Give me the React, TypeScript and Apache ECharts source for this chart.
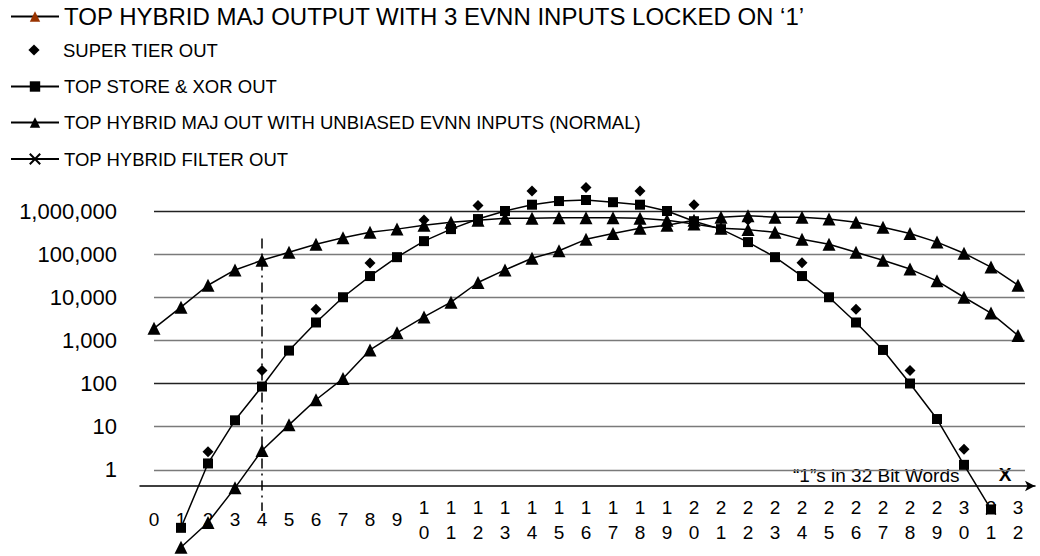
import React, { useEffect, useRef } from "react";
import * as echarts from "echarts";

const FONT = '"Liberation Sans", Arial, Helvetica, sans-serif';

// categories: number of "1"s in 32 bit words
const BIT_COUNTS = [0, 1, 2, 3, 4, 5, 6, 7, 8, 9, 10, 11, 12, 13, 14, 15, 16, 17, 18, 19, 20, 21, 22, 23, 24, 25, 26, 27, 28, 29, 30, 31, 32];

const NAME_LOCKED = "TOP HYBRID MAJ OUTPUT WITH 3 EVNN INPUTS LOCKED ON \u20181\u2019";
const NAME_SUPER = "SUPER TIER OUT";
const NAME_STORE = "TOP STORE & XOR OUT";
const NAME_NORMAL = "TOP HYBRID MAJ OUT WITH UNBIASED EVNN INPUTS (NORMAL)";
const NAME_FILTER = "TOP HYBRID FILTER OUT";

// values per bit count (null = no point)
const LOCKED_VALUES = [null, 0.016, 0.06, 0.38, 2.8, 11, 42, 130, 600, 1500, 3500, 7700, 22000, 43000, 80000, 120000, 220000, 300000, 400000, 470000, 610000, 720000, 780000, 720000, 720000, 650000, 550000, 420000, 300000, 190000, 105000, 50000, 19000];
const NORMAL_VALUES = [1900, 5900, 19000, 43000, 72000, 110000, 170000, 240000, 320000, 380000, 470000, 550000, 610000, 680000, 680000, 700000, 700000, 700000, 680000, 610000, 500000, 400000, 370000, 320000, 220000, 170000, 110000, 72000, 45000, 24000, 10000, 4300, 1300];
const STORE_VALUES = [null, 0.045, 1.4, 14, 85, 580, 2600, 10000, 31000, 85000, 200000, 380000, 650000, 1000000, 1400000, 1700000, 1800000, 1600000, 1400000, 1000000, 580000, 380000, 190000, 85000, 31000, 10000, 2600, 600, 100, 15, 1.3, 0.12, null];

const SUPER_X = [2, 4, 6, 8, 10, 12, 14, 16, 18, 20, 22, 24, 26, 28, 30];
const SUPER_VALUES = [2.6, 200, 5300, 62000, 620000, 1350000, 2900000, 3500000, 2900000, 1400000, 620000, 63000, 5300, 200, 3];

const FILTER_X = [31];
const FILTER_VALUES = [0.12];

// y tick values shown with labels
const Y_LABELED_MIN = 1;
// dash-dot marker line at 4 "1"s
const DASH_X = 4;
const DASH_TOP = 230000;
const DASH_BOTTOM = 0.11;

const AXIS_TITLE = "\u201C1\u201Ds in 32 Bit Words";
const AXIS_X_MARK = "X";

function pairs(xs: number[], vs: (number | null)[]) {
  const out: number[][] = [];
  xs.forEach((x, i) => {
    const v = vs[i];
    if (v !== null && v !== undefined) out.push([x, v]);
  });
  return out;
}

const BLACK_LINE = { color: "#000", width: 1.5 };

function legendFor(name: string, centerY: number, fontSize: number, extra: any, itemHeight = 13) {
  const lh = Math.round(fontSize * 1.15);
  return {
    show: true,
    selectedMode: false,
    orient: "horizontal",
    left: 10,
    top: centerY - lh / 2,
    padding: 0,
    itemWidth: 48,
    itemHeight,
    itemGap: 0,
    data: [{ name, ...extra }],
    textStyle: { fontFamily: FONT, fontSize, color: "#000", lineHeight: lh },
  };
}

export default function App() {
  const ref = useRef<HTMLDivElement>(null);
  useEffect(() => {
    if (!ref.current) return;
    const chart = echarts.init(ref.current, null, { renderer: "svg" });
    const option: any = {
      animation: false,
      backgroundColor: "#fff",
      textStyle: { fontFamily: FONT },
      legend: [
        legendFor(NAME_LOCKED, 16.5, 24, { itemStyle: { color: "#993300" } }),
        legendFor(NAME_SUPER, 50, 18.5, {}, 14),
        legendFor(NAME_STORE, 86.5, 18.5, {}),
        legendFor(NAME_NORMAL, 122.5, 18.5, {}),
        legendFor(NAME_FILTER, 159, 18.5, {}),
      ],
      grid: [
        { left: 154, right: 15, top: 211, height: 345.6 },
        { left: 140, right: 5, top: 211, height: 275 },
      ],
      xAxis: [
        {
          type: "value",
          gridIndex: 0,
          min: 0,
          max: 32.26,
          interval: 1,
          offset: -70.6,
          axisLine: { show: false },
          axisTick: { show: false },
          splitLine: { show: false },
          axisLabel: {
            show: true,
            margin: 34.5,
            verticalAlign: "middle",
            color: "#000",
            fontFamily: FONT,
            fontSize: 19,
            lineHeight: 25,
            formatter: (v: number) => (Number.isInteger(v) && BIT_COUNTS.includes(v) ? String(v).split("").join("\n") : ""),
          },
        },
        {
          type: "value",
          gridIndex: 1,
          min: 0,
          max: 1,
          axisLine: { show: true, symbol: ["none", "arrow"], symbolSize: [8, 10], lineStyle: { color: "#000", width: 1.5 } },
          axisTick: { show: false },
          axisLabel: { show: false },
          splitLine: { show: false },
        },
      ],
      yAxis: [
        {
          type: "log",
          gridIndex: 0,
          logBase: 10,
          min: 0.01,
          max: 1000000,
          splitNumber: 8,
          axisLine: { show: false },
          axisTick: { show: false },
          splitLine: {
            show: true,
            lineStyle: {
              width: 1.3,
              color: ["rgba(0,0,0,0)", "rgba(0,0,0,0)", "#7a7a7a", "#7a7a7a", "#222", "#7a7a7a", "#7a7a7a", "#7a7a7a", "#222"],
            },
          },
          axisLabel: {
            margin: 37,
            color: "#000",
            fontFamily: FONT,
            fontSize: 22,
            verticalAlign: "middle",
            padding: [0, 0, 5, 0],
            formatter: (v: number) => (v >= Y_LABELED_MIN ? Math.round(v).toLocaleString("en-US") : ""),
          },
        },
        { type: "value", gridIndex: 1, min: 0, max: 1, show: false },
      ],
      series: [
        {
          name: NAME_LOCKED,
          type: "line",
          xAxisIndex: 0,
          yAxisIndex: 0,
          clip: false,
          data: pairs(BIT_COUNTS, LOCKED_VALUES),
          symbol: "triangle",
          symbolSize: 13,
          itemStyle: { color: "#000" },
          lineStyle: BLACK_LINE,
        },
        {
          name: NAME_SUPER,
          type: "line",
          xAxisIndex: 0,
          yAxisIndex: 0,
          clip: false,
          data: pairs(SUPER_X, SUPER_VALUES),
          symbol: "diamond",
          symbolSize: 11,
          itemStyle: { color: "#000", opacity: 1 },
          lineStyle: { width: 0, opacity: 0 },
        },
        {
          name: NAME_STORE,
          type: "line",
          xAxisIndex: 0,
          yAxisIndex: 0,
          clip: false,
          data: pairs(BIT_COUNTS, STORE_VALUES),
          symbol: "rect",
          symbolSize: 10,
          itemStyle: { color: "#000" },
          lineStyle: BLACK_LINE,
        },
        {
          name: NAME_NORMAL,
          type: "line",
          xAxisIndex: 0,
          yAxisIndex: 0,
          clip: false,
          data: pairs(BIT_COUNTS, NORMAL_VALUES),
          symbol: "triangle",
          symbolSize: 13,
          itemStyle: { color: "#000" },
          lineStyle: BLACK_LINE,
          markLine: {
            silent: true,
            symbol: "none",
            label: { show: false },
            lineStyle: { color: "#000", width: 1.5, type: [10, 5, 2, 5] },
            data: [[{ coord: [DASH_X, DASH_TOP] }, { coord: [DASH_X, DASH_BOTTOM] }]],
          },
        },
        {
          name: NAME_FILTER,
          type: "line",
          xAxisIndex: 0,
          yAxisIndex: 0,
          clip: false,
          data: pairs(FILTER_X, FILTER_VALUES),
          symbol: "path://M0,0L10,10M10,0L0,10",
          symbolSize: 10,
          itemStyle: { color: "#000", borderColor: "#000", borderWidth: 1.5 },
          lineStyle: BLACK_LINE,
        },
      ],
      graphic: [
        {
          type: "text",
          x: 793,
          y: 475,
          silent: true,
          style: { text: AXIS_TITLE, fontFamily: FONT, fontSize: 19, fill: "#000", verticalAlign: "middle", align: "left" },
        },
        {
          type: "text",
          x: 1005,
          y: 474,
          silent: true,
          style: { text: AXIS_X_MARK, fontFamily: FONT, fontSize: 19, fontWeight: "bold", fill: "#000", verticalAlign: "middle", align: "center" },
        },
      ],
    };
    chart.setOption(option);
    return () => chart.dispose();
  }, []);
  return <div ref={ref} style={{ position: "absolute", left: 0, top: 0, width: 1040, height: 556 }} />;
}
